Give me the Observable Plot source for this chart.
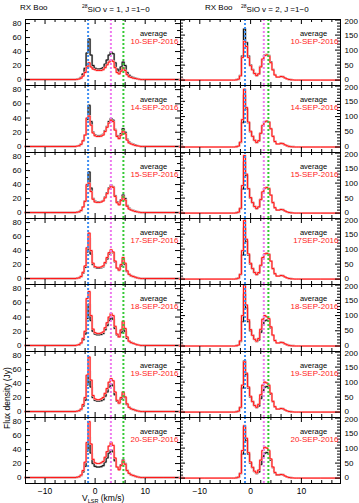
<!DOCTYPE html>
<html><head><meta charset="utf-8">
<script src="https://cdn.jsdelivr.net/npm/d3@7"></script>
<script src="https://cdn.jsdelivr.net/npm/@observablehq/plot@0.6"></script>
<style>
body{margin:0;background:#fff;}
#c{position:relative;width:359px;height:503px;overflow:hidden;background:#fff;font-family:"Liberation Sans",Arial,sans-serif;color:#000;}
#c svg{position:absolute;left:0;}
.t{position:absolute;font-size:8px;white-space:nowrap;line-height:1;}
.t sup{font-size:5px;vertical-align:4px;}
.t sub{font-size:5.5px;vertical-align:-2px;}
</style></head><body><div id="c"></div>
<script>
// velocity channels (km/s)
const vel = [-14,-4.0,-3.6,-3.2,-2.8,-2.4,-2.0,-1.6,-1.2,-0.8,-0.4,0.0,0.4,0.8,1.2,1.6,2.0,2.4,2.8,3.2,3.6,4.0,4.4,4.8,5.2,5.6,6.0,6.4,6.8,7.2,7.6,8.0,8.4,8.8,9.2,9.6,10.0,17.5];

// 28SiO v=1, J=1-0 (Jy)
const avgV1 = [0, 0,0.5,1,3,8,16,38,58,35,20,16,15,15,15.5,17,22,28,35,39,37,24,15,12,18,25,20,10,6,4,3,2,1,0.5,0,0,0, 0];
const v1_10 = [0, 0,0.3,0.8,2,5,10,18,24,18,15,14,13,13,13,14,17,21,25,28,26,17,10,8,12,17,13,7,4,3,2,1.5,1,0.5,0,0,0, 0];
const v1_14 = [0, 0,0.5,1,3,8,16,40,43,30,19,15,14,14,14.5,16,21,27,33,37,35,23,14,11,16,22,18,9,5,3.5,2.5,1.5,1,0.5,0,0,0, 0];
const v1_15 = [0, 0,0.5,1,3,8,16,40,42,30,19,15,14.5,14.5,15,16.5,21,27,34,38,36,23,14,11,17,23,18,9,5,3.5,2.5,1.5,1,0.5,0,0,0, 0];
const v1_17 = [0, 0,0.5,1,3,9,18,44,65,40,22,17,16,16,16.5,18,23,30,37,41,38,25,15,12,20,30,22,11,6,4,3,2,1,0.5,0,0,0, 0];
const v1_18 = [0, 0,0.5,1.2,3.5,10,20,66,76,42,23,18,17,17,17.5,19,25,32,40,45,42,27,16,12,22,34,24,12,6,4,3,2,1,0.5,0,0,0, 0];
const v1_19 = [0, 0,0.5,1.2,3.5,10,20,52,78,45,23,18,17,17,18,20,26,33,42,47,44,28,16,12,20,28,21,11,6,4,3,2,1,0.5,0,0,0, 0];
const v1_20 = [0, 0,0.5,1.2,3.5,10,22,50,80,48,26,21,20,20,21,23,29,37,45,50,46,28,15,11,17,24,19,10,6,4,3,2,1,0.5,0,0,0, 0];

// 28SiO v=2, J=1-0 (Jy)
const avgV2 = [0, 0,0,0,1,3,15,80,170,125,80,50,35,22,15,20,45,70,83,85,82,60,35,18,10,10,12,11,7,4,2,1,0.5,0,0,0,0, 0];
const v2_10 = [0, 0,0,0,1,3,14,75,130,112,75,48,34,22,15,21,44,70,82,84,80,58,34,17,10,10,12,11,7,4,2,1,0.5,0,0,0,0, 0];
const v2_14 = [0, 0,0,0,1,3,16,90,190,130,82,52,35,22,15,21,45,71,83,85,82,60,35,18,10,10,12,11,7,4,2,1,0.5,0,0,0,0, 0];
const v2_15 = [0, 0,0,0,1,3,16,92,192,130,82,52,35,22,15,21,45,71,83,85,82,60,35,18,10,10,12,11,7,4,2,1,0.5,0,0,0,0, 0];
const v2_17 = [0, 0,0,0,1,3,16,95,196,133,84,53,35,22,15,22,46,72,84,86,83,60,35,18,10,10,12,11,7,4,2,1,0.5,0,0,0,0, 0];
const v2_18 = [0, 0,0,0,1,3,17,100,200,135,86,54,35,22,16,25,55,88,100,96,90,63,36,18,10,10,12,11,7,4,2,1,0.5,0,0,0,0, 0];
const v2_19 = [0, 0,0,0,1,3,16,90,168,130,84,53,35,22,16,26,58,90,100,97,90,63,36,18,10,10,12,11,7,4,2,1,0.5,0,0,0,0, 0];
const v2_20 = [0, 0,0,0,1,3,16,92,175,133,85,54,36,23,17,27,60,92,103,100,92,64,37,19,11,11,12,11,7,4,2,1,0.5,0,0,0,0, 0];

const leftLabels = ["10-SEP-2016","14-SEP-2016","15-SEP-2016","17-SEP-2016","18-SEP-2016","19-SEP-2016","20-SEP-2016"];
const rightLabels = ["10-SEP-2016","14-SEP-2016","15-SEP-2016","17SEP-2016","18-SEP-2016","19-SEP-2016","20-SEP-2016"];

// reference velocities (dotted lines)
const refV1 = [-1.4, 3.15, 5.65];
const refV2 = [-1.1, 2.6, 3.5];
const refColors = ["#3f8ff2", "#ee7aee", "#36c936"];

// ticks
const xMajor = [-10, 0, 10];
const xMinor = [-12,-8,-6,-4,-2,2,4,6,8,12,14,16];
const yMajorL = [0,20,40,60,80];
const yMinorL = [10,30,50,70];
const yMajorR = [0,50,100,150,200];
const yMinorR = [10,20,30,40,60,70,80,90,110,120,130,140,160,170,180,190];

const redV1 = [v1_10,v1_14,v1_15,v1_17,v1_18,v1_19,v1_20];
const redV2 = [v2_10,v2_14,v2_15,v2_17,v2_18,v2_19,v2_20];

const W = 359;
const rowTops = [0,1,2,3,4,5,6,7].map(i => Math.round(19 + 66.3*i));
const font = '"Liberation Sans", Arial, sans-serif';
const c = document.getElementById("c");

function panel(col, row) {
  const L = col === 0;
  const fL = L ? 25 : 180, fR = L ? 180 : 340;
  const fw = fR - fL;
  const top = rowTops[row], fh = rowTops[row+1] - top;
  const last = row === 6;
  const mb = last ? 26 : 1;
  const avg = L ? avgV1 : avgV2;
  const red = (L ? redV1 : redV2)[row];
  const spec = vel.map((v, i) => ({v, avg: avg[i], red: red[i]}));
  const refs = L ? refV1 : refV2;
  const yMajor = L ? yMajorL : yMajorR, yMinor = L ? yMinorL : yMinorR;
  const marks = [];
  marks.push(Plot.line(spec, {x: "v", y: "avg", curve: "step", stroke: "#a8a8a8", strokeWidth: 2}));
  marks.push(Plot.line(spec, {x: "v", y: "avg", curve: "step", stroke: "#000", strokeWidth: 0.9}));
  marks.push(Plot.line(spec, {x: "v", y: "red", curve: "step", stroke: "#ffb4b4", strokeWidth: 2}));
  marks.push(Plot.line(spec, {x: "v", y: "red", curve: "step", stroke: "#ff0000", strokeWidth: 0.9}));
  refs.forEach((r, i) => marks.push(Plot.ruleX([r], {x: d => d, stroke: refColors[i], strokeWidth: 2, strokeDasharray: "2,2"})));
  // inward ticks on all sides
  const tk = {stroke: "#000", strokeWidth: 1};
  marks.push(Plot.tickX(xMajor, {x: d => d, insetTop: fh - 5, ...tk}));
  marks.push(Plot.tickX(xMajor, {x: d => d, insetBottom: fh - 5, ...tk}));
  marks.push(Plot.tickX(xMinor, {x: d => d, insetTop: fh - 3, ...tk}));
  marks.push(Plot.tickX(xMinor, {x: d => d, insetBottom: fh - 3, ...tk}));
  marks.push(Plot.tickY(yMajor, {y: d => d, insetRight: fw - 5, ...tk}));
  marks.push(Plot.tickY(yMajor, {y: d => d, insetLeft: fw - 5, ...tk}));
  marks.push(Plot.tickY(yMinor, {y: d => d, insetRight: fw - 3, ...tk}));
  marks.push(Plot.tickY(yMinor, {y: d => d, insetLeft: fw - 3, ...tk}));
  marks.push(Plot.frame({stroke: "#000", strokeWidth: 1}));
  // y tick labels (top label nudged down, bottom label nudged up, as in the reference)
  const lab = {text: d => String(d), frameAnchor: L ? "left" : "right",
    dx: L ? -4 : 4, textAnchor: L ? "end" : "start", fontSize: 8, fill: "#000"};
  marks.push(Plot.text(yMajor.slice(1, -1), {y: d => d, ...lab}));
  marks.push(Plot.text(yMajor.slice(0, 1), {y: d => d, dy: -0.5, ...lab}));
  marks.push(Plot.text(yMajor.slice(-1), {y: d => d, dy: L ? 0 : 1.5, ...lab}));
  if (last) {
    marks.push(Plot.text(xMajor, {x: d => d, text: d => d < 0 ? "\u2212" + Math.abs(d) : String(d), frameAnchor: "bottom",
      dy: 10, fontSize: 8.5, fill: "#000"}));
  }
  // legend text
  marks.push(Plot.text(["average"], {text: d => d, frameAnchor: "top-right", dx: -27, dy: 11, textAnchor: "middle", fontSize: 7.5, fill: "#000"}));
  marks.push(Plot.text([(L ? leftLabels : rightLabels)[row]], {text: d => d, frameAnchor: "top-right", dx: -2, dy: 19, textAnchor: "end", fontSize: 8, fill: "#ff1a1a"}));

  const svg = Plot.plot({
    width: W, height: fh + 1 + mb,
    marginLeft: fL, marginRight: W - fR, marginTop: 1, marginBottom: mb,
    x: {domain: L ? [-13.9, 17.05] : [-13.8, 17.7], axis: null},
    y: {domain: L ? [-8.5, 85.8] : [-18, 202], axis: null},
    clip: false,
    style: {background: "transparent", overflow: "visible", fontFamily: font},
    marks
  });
  svg.style.top = (top - 1) + "px";
  c.appendChild(svg);
}
for (let r = 0; r < 7; r++) { panel(0, r); panel(1, r); }

function addText(html, x, y, extra) {
  const d = document.createElement("div");
  d.className = "t";
  d.innerHTML = html;
  d.style.left = x + "px";
  d.style.top = y + "px";
  if (extra) Object.assign(d.style, extra);
  c.appendChild(d);
}
addText("RX Boo", 20, 4);
addText("<sup>28</sup>SiO v = 1, J =1\u22120", 82, 4);
addText("RX Boo", 205, 4);
addText("<sup>28</sup>SiO v = 2, J =1\u22120", 241, 4);
addText("V<sub>LSR</sub> (km/s)", 82, 494, {fontSize: "8.5px"});
addText("Flux density (Jy)", 7, 398, {transform: "translate(-50%,-50%) rotate(-90deg)", fontSize: "8.5px"});
</script></body></html>
